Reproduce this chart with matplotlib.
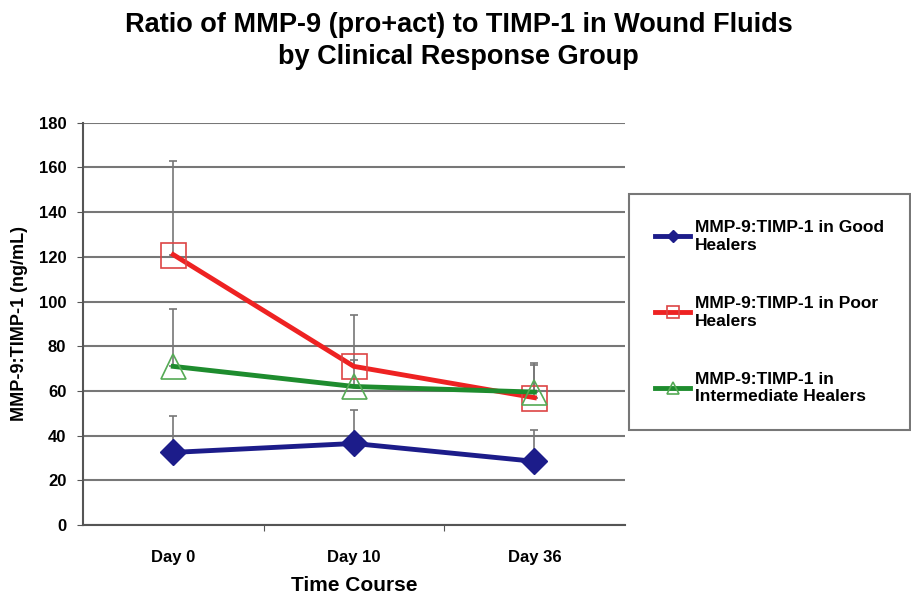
import matplotlib.pyplot as plt
import numpy as np

plt.rcParams['font.family'] = ['Liberation Sans', 'DejaVu Sans']

# Data
days = ['Day 0', 'Day 10', 'Day 36']
good = [32.5, 36.5, 28.5]
good_err = [16.5, 15, 14]
poor = [121, 71, 57]
poor_err = [42, 23, 15.5]
inter = [71, 62, 59.5]
inter_err = [25.5, 12, 12]

x = np.arange(len(days))

fig = plt.figure(figsize=(9.12, 5.95), dpi=100)
ax = fig.add_axes([0.091, 0.1176, 0.594, 0.676])

err_kw = dict(fmt='none', ecolor='#777777', elinewidth=1.2, capsize=3, capthick=1.2)
ax.errorbar(x, good, yerr=[np.zeros(3), good_err], **err_kw)
ax.errorbar(x, poor, yerr=[np.zeros(3), poor_err], **err_kw)
ax.errorbar(x, inter, yerr=[np.zeros(3), inter_err], **err_kw)

ax.plot(x, good, color='#1c1c8a', lw=3.5, marker='D', ms=13,
        mfc='#1c1c8a', mec='#1c1c8a', label='MMP-9:TIMP-1 in Good\nHealers', zorder=3)
ax.plot(x, poor, color='#ee2222', lw=3.5, marker='s', ms=18,
        mfc='none', mec='#dd4444', mew=1.2, label='MMP-9:TIMP-1 in Poor\nHealers', zorder=3)
ax.plot(x, inter, color='#1e8c2e', lw=3.5, marker='^', ms=18,
        mfc='none', mec='#55aa55', mew=1.2, label='MMP-9:TIMP-1 in\nIntermediate Healers', zorder=3)

ax.set_xlim(-0.5, 2.5)
ax.set_ylim(0, 180)
ax.set_yticks(np.arange(0, 181, 20))
ax.yaxis.grid(True, color='#777777', lw=1.5)
ax.set_axisbelow(True)

ax.set_xticks([0.5, 1.5])
ax.set_xticklabels([])
ax.set_xticks(x, minor=True)
ax.set_xticklabels(days, minor=True)
ax.tick_params(axis='x', which='minor', length=0, pad=18)
ax.tick_params(axis='x', which='major', length=4, color='#555555')
ax.tick_params(axis='y', length=4, color='#555555', pad=8)
for lab in ax.get_xticklabels(minor=True) + ax.get_yticklabels():
    lab.set_fontweight('bold')
    lab.set_fontsize(12)

for s in ['top', 'right']:
    ax.spines[s].set_visible(False)
for s in ['left', 'bottom']:
    ax.spines[s].set_color('#555555')
    ax.spines[s].set_linewidth(1.5)

ax.set_xlabel('Time Course', fontsize=15, fontweight='bold', labelpad=8)
ax.set_ylabel('MMP-9:TIMP-1 (ng/mL)', fontsize=13, fontweight='bold', labelpad=8)

fig.suptitle('Ratio of MMP-9 (pro+act) to TIMP-1 in Wound Fluids\nby Clinical Response Group',
             fontsize=19.5, fontweight='bold', y=0.98, x=0.503, linespacing=1.3)

leg = fig.legend(loc='center left', bbox_to_anchor=(0.69, 0.475),
                 prop={'weight': 'bold', 'size': 12.5}, labelspacing=2.5,
                 handlelength=2.0, handletextpad=0.3, borderpad=1.5,
                 borderaxespad=0, fancybox=False, edgecolor='#555555', markerscale=0.5)
leg.get_frame().set_linewidth(1.5)

plt.savefig('out.png', dpi=100)
